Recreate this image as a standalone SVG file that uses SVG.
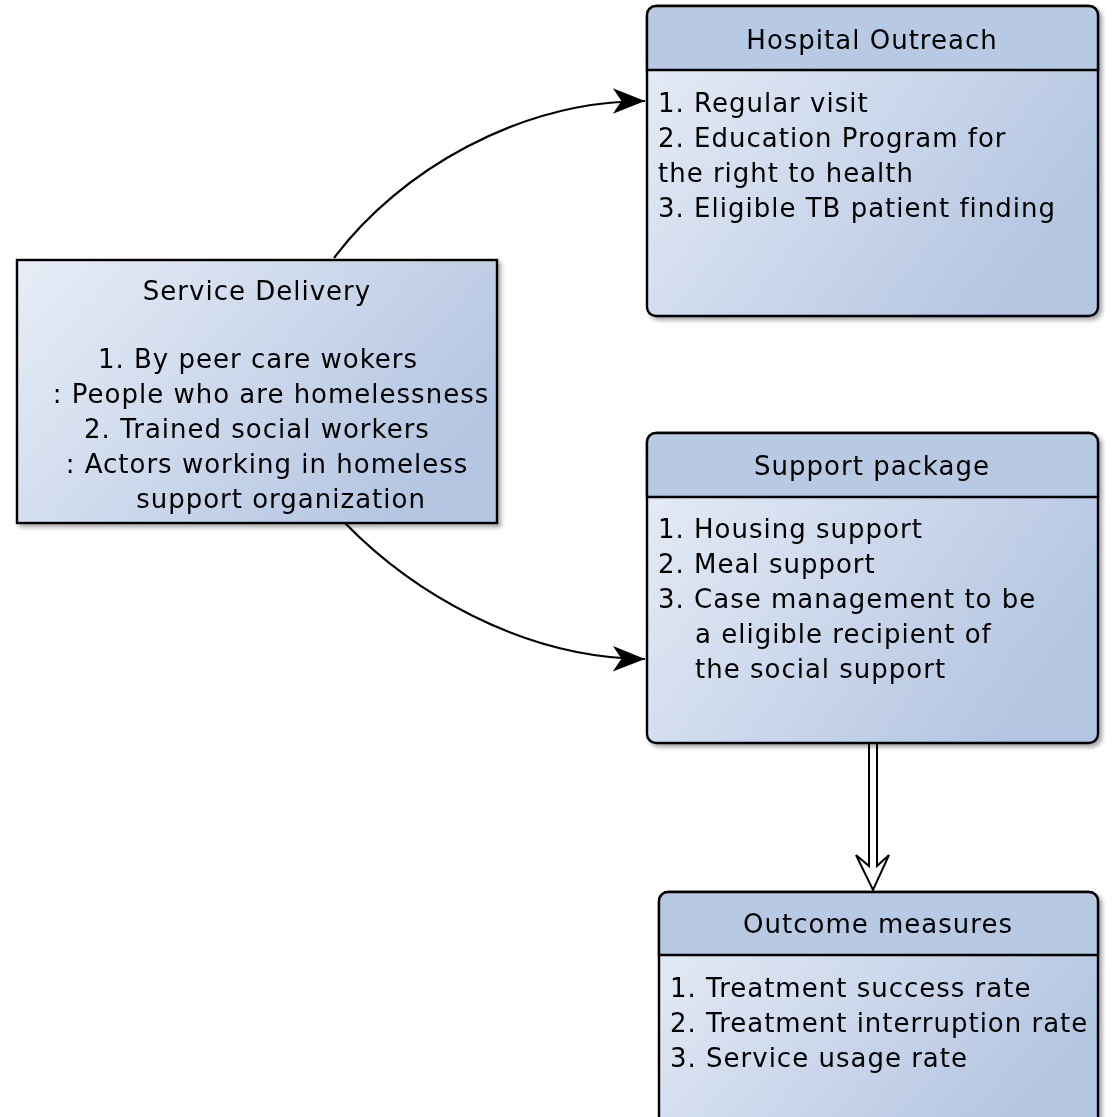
<svg xmlns="http://www.w3.org/2000/svg" width="1112" height="1117" viewBox="0 0 1112 1117">
<style>
.t{font-family:"DejaVu Sans",Verdana,sans-serif;font-size:26px;letter-spacing:1px;fill:#000}
.c{text-anchor:middle}
.box{fill:url(#g);stroke:#000;stroke-width:2.4}
.hdr{fill:#b7c9e3;stroke:#000;stroke-width:2.4}
.ln{fill:none;stroke:#000;stroke-width:2.2}
</style>
<defs>
<linearGradient id="g" x1="0" y1="0.1" x2="1" y2="0.6">
<stop offset="0" stop-color="#e6ecf6"/>
<stop offset="1" stop-color="#b3c5e1"/>
</linearGradient>
<filter id="sh" x="-10%" y="-10%" width="130%" height="130%">
<feDropShadow dx="3" dy="3" stdDeviation="2" flood-color="#000" flood-opacity="0.35"/>
</filter>
<marker id="ah" markerUnits="userSpaceOnUse" markerWidth="40" markerHeight="30" viewBox="-32 -14 34 28" refX="0" refY="0" orient="auto">
<path d="M0,0 L-30,-12 L-22,0 L-30,12 Z" fill="#000"/>
</marker>
</defs>
<g id="connectors">
<path class="ln" d="M334,258 C400,170 520,101 645,101" marker-end="url(#ah)"/>
<path class="ln" d="M345,523 C410,590 520,658 645,659" marker-end="url(#ah)"/>
<path d="M869,743 L869,866 L856,855 L873,890 L889,855 L877,866 L877,743" fill="#fff" stroke="#000" stroke-width="2" stroke-linejoin="miter"/>
</g>
<g id="hospital-outreach" filter="url(#sh)">
<rect class="box" x="647" y="6" width="451" height="310" rx="9"/>
<path class="hdr" d="M656,6 H1089 A9,9 0 0 1 1098,15 V70 H647 V15 A9,9 0 0 1 656,6 Z"/>
<text class="t c" x="872" y="49">Hospital Outreach</text>
<text class="t" x="658" y="112">1. Regular visit</text>
<text class="t" x="658" y="147">2. Education Program for</text>
<text class="t" x="658" y="182">the right to health</text>
<text class="t" x="658" y="217">3. Eligible TB patient finding</text>
</g>
<g id="service-delivery" filter="url(#sh)">
<rect class="box" x="17" y="260" width="480" height="263"/>
<text class="t c" x="257" y="300">Service Delivery</text>
<text class="t c" x="258" y="368">1. By peer care wokers</text>
<text class="t c" x="271" y="403">: People who are homelessness</text>
<text class="t c" x="257" y="438">2. Trained social workers</text>
<text class="t c" x="267" y="473">: Actors working in homeless</text>
<text class="t c" x="281" y="508">support organization</text>
</g>
<g id="support-package" filter="url(#sh)">
<rect class="box" x="647" y="433" width="451" height="310" rx="9"/>
<path class="hdr" d="M656,433 H1089 A9,9 0 0 1 1098,442 V497 H647 V442 A9,9 0 0 1 656,433 Z"/>
<text class="t c" x="872" y="475">Support package</text>
<text class="t" x="658" y="538">1. Housing support</text>
<text class="t" x="658" y="573">2. Meal support</text>
<text class="t" x="658" y="608">3. Case management to be</text>
<text class="t" x="695" y="643">a eligible recipient of</text>
<text class="t" x="695" y="678">the social support</text>
</g>
<g id="outcome-measures" filter="url(#sh)">
<rect class="box" x="659" y="892" width="439" height="240" rx="9"/>
<path class="hdr" d="M668,892 H1089 A9,9 0 0 1 1098,901 V955 H659 V901 A9,9 0 0 1 668,892 Z"/>
<text class="t c" x="878" y="933">Outcome measures</text>
<text class="t" x="670" y="997">1. Treatment success rate</text>
<text class="t" x="670" y="1032">2. Treatment interruption rate</text>
<text class="t" x="670" y="1067">3. Service usage rate</text>
</g>
</svg>
